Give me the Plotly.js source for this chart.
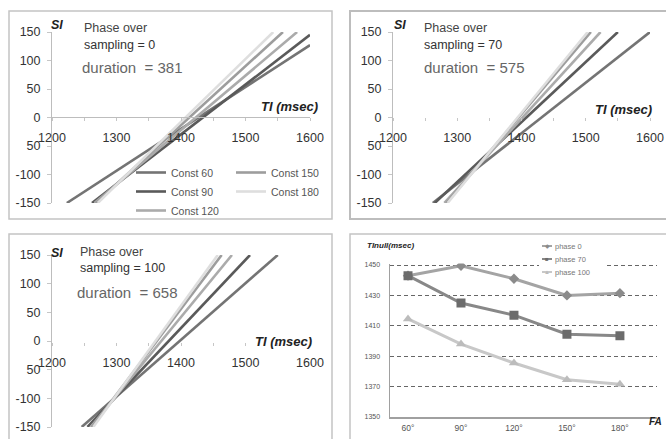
<!DOCTYPE html>
<html><head><meta charset="utf-8">
<script src="https://cdn.plot.ly/plotly-3.0.1.min.js"></script>
<style>html,body{margin:0;padding:0;background:#fff}#chart{width:666px;height:439px}</style>
</head><body><div id="chart"></div>
<script>
// ---------- data ----------
var constNames = ['Const 60', 'Const 90', 'Const 120', 'Const 150', 'Const 180'];
var constColors = ['#747474', '#5a5a5a', '#ababab', '#9d9d9d', '#dedede'];

// phase over sampling = 0 : TI endpoints and SI endpoints of each line
var phase0TI  = [[1223, 1600], [1262, 1600], [1266, 1580], [1268, 1558], [1271, 1543]];
var phase0SI  = [[-150, 127],  [-150, 145],  [-150, 150],  [-150, 150],  [-150, 150]];
// phase over sampling = 70
var phase70TI = [[1262, 1600], [1265, 1550], [1280, 1523], [1283, 1508], [1285, 1503]];
var phase70SI = [[-150, 150],  [-150, 150],  [-150, 150],  [-150, 150],  [-150, 150]];
// phase over sampling = 100
var phase100TI = [[1246, 1550], [1255, 1507], [1260, 1479], [1262, 1463], [1264, 1457]];
var phase100SI = [[-150, 150],  [-150, 150],  [-150, 150],  [-150, 150],  [-150, 150]];

var panelPhases = [0, 70, 100];
var panelDurations = [381, 575, 658];

var siTicks = [150, 100, 50, 0, -50, -100, -150];
var siTickText = ['150', '100', '50', '0', '50', '-100', '-150'];
var tiTicks = [1200, 1250, 1300, 1350, 1400, 1450, 1500, 1550, 1600];
var tiTickText = ['1200', '', '1300', '', '1400', '', '1500', '', '1600'];

// TInull chart
var faLabels = ['60°', '90°', '120°', '150°', '180°'];
var phaseNames = ['phase 0', 'phase 70', 'phase 100'];
var tinullPhase0   = [1443, 1449.5, 1441, 1430, 1431.5];
var tinullPhase70  = [1443, 1425, 1417, 1404.5, 1403.5];
var tinullPhase100 = [1414.5, 1398, 1385.5, 1374.5, 1371.5];
var tinullTicks = [1350, 1370, 1390, 1410, 1430, 1450];

// ---------- helpers ----------
function px(x) { return x / 666; }
function py(y) { return (439 - y) / 439; }
var FONT = 'Liberation Sans, Arial, sans-serif';

var traces = [];
var lineSets = [[phase0TI, phase0SI], [phase70TI, phase70SI], [phase100TI, phase100SI]];
lineSets.forEach(function (set, p) {
  var suffix = p === 0 ? '' : String(p + 1);
  for (var i = 0; i < constNames.length; i++) {
    traces.push({
      type: 'scatter', mode: 'lines',
      x: set[0][i], y: set[1][i],
      xaxis: 'x' + suffix, yaxis: 'y' + suffix,
      name: constNames[i],
      line: { color: constColors[i], width: 2.6 },
      showlegend: p === 0,
      legend: i < 3 ? 'legend2' : 'legend3',
      hoverinfo: 'skip'
    });
  }
});

var phaseStyles = [
  { line: '#a4a4a4', marker: '#8b8b8b', symbol: 'diamond', size: 8, glyph: '◆' },
  { line: '#888888', marker: '#6c6c6c', symbol: 'square', size: 9, glyph: '■' },
  { line: '#c8c8c8', marker: '#bcbcbc', symbol: 'triangle-up', size: 9, glyph: '▲' }
];
[tinullPhase0, tinullPhase70, tinullPhase100].forEach(function (vals, k) {
  traces.push({
    type: 'scatter', mode: 'lines+markers',
    x: faLabels, y: vals, xaxis: 'x4', yaxis: 'y4',
    name: phaseNames[k], showlegend: false,
    line: { color: phaseStyles[k].line, width: 3 },
    marker: { symbol: phaseStyles[k].symbol, size: phaseStyles[k].size, color: phaseStyles[k].marker },
    hoverinfo: 'skip'
  });
});

function tiAxis(domain, pos, showline) {
  return {
    domain: domain, anchor: 'free', position: pos, range: [1200, 1600],
    tickvals: tiTicks, ticktext: tiTickText,
    ticks: 'outside', ticklen: 3, tickcolor: '#c6c6c6',
    showline: showline, linecolor: '#bdbdbd', linewidth: 1,
    showgrid: false, zeroline: false, ticklabelstandoff: 6,
    tickfont: { family: FONT, size: 12.5, color: '#333' }
  };
}
function siAxis(domain, anchor) {
  return {
    domain: domain, anchor: anchor, range: [-150, 150],
    tickvals: siTicks, ticktext: siTickText,
    ticks: 'outside', ticklen: 4, tickcolor: '#c6c6c6',
    showline: true, linecolor: '#bdbdbd', linewidth: 1,
    showgrid: false, zeroline: false, ticklabelstandoff: 4,
    tickfont: { family: FONT, size: 12.5, color: '#333' }
  };
}

var annotations = [];
function txt(t, x, y, size, color, opts) {
  opts = opts || {};
  annotations.push({
    text: t, xref: 'paper', yref: 'paper', x: px(x), y: py(y),
    xanchor: opts.xanchor || 'left', yanchor: 'middle', showarrow: false,
    font: { family: FONT, size: size, color: color }
  });
}
var panelText = [
  { si: [57, 25], ph: [82, 28], sa: [82, 45], du: [80, 68], ti: [320, 107] },
  { si: [400, 25], ph: [422, 28], sa: [422, 45], du: [422, 68], ti: [654, 110] },
  { si: [57, 253], ph: [78, 252], sa: [78, 268], du: [75, 292], ti: [314, 341] }
];
panelText.forEach(function (p, k) {
  txt('<b><i>SI</i></b>', p.si[0], p.si[1], 12.5, '#222', { xanchor: 'center' });
  txt('Phase over', p.ph[0], p.ph[1], 12.5, '#444');
  txt('sampling = ' + panelPhases[k], p.sa[0], p.sa[1], 12.5, '#333');
  txt('duration  = ' + panelDurations[k], p.du[0], p.du[1], 15, '#666');
  txt('<b><i>TI (msec)</i></b>', p.ti[0], p.ti[1], 13, '#222', { xanchor: 'right' });
});
txt('<b><i>TInull(msec)</i></b>', 365, 245, 8, '#222');
txt('<b><i>FA</i></b>', 664, 421, 10, '#222', { xanchor: 'right' });

// manual legend for the TInull chart
var shapes = [
  { type: 'rect', xref: 'paper', yref: 'paper', x0: px(9), x1: px(332), y0: py(219), y1: py(11), line: { color: '#c4c4c4', width: 1.5 } },
  { type: 'rect', xref: 'paper', yref: 'paper', x0: px(350), x1: px(700), y0: py(219), y1: py(11), line: { color: '#bdbdbd', width: 2 } },
  { type: 'rect', xref: 'paper', yref: 'paper', x0: px(9), x1: px(332), y0: py(480), y1: py(234), line: { color: '#c4c4c4', width: 1.5 } },
  { type: 'rect', xref: 'paper', yref: 'paper', x0: px(350), x1: px(700), y0: py(480), y1: py(234), line: { color: '#c4c4c4', width: 1.5 } },
  { type: 'rect', xref: 'paper', yref: 'paper', layer: 'above', x0: px(539), x1: px(607), y0: py(279), y1: py(239), fillcolor: '#fff', line: { width: 0 } }
];
var legRows = [246, 259, 272];
phaseNames.forEach(function (n, k) {
  shapes.push({ type: 'line', xref: 'paper', yref: 'paper', layer: 'above', x0: px(542), x1: px(552), y0: py(legRows[k]), y1: py(legRows[k]), line: { color: phaseStyles[k].line, width: 2 } });
  txt(phaseStyles[k].glyph, 547, legRows[k], 6, phaseStyles[k].marker, { xanchor: 'center' });
  txt(n, 553, legRows[k], 7.5, '#777');
});

var layout = {
  width: 666, height: 439, margin: { l: 0, r: 0, t: 0, b: 0 },
  paper_bgcolor: '#fff', plot_bgcolor: 'rgba(0,0,0,0)',
  showlegend: true,
  font: { family: FONT },
  xaxis: tiAxis([px(52), px(310)], py(117), true),
  yaxis: siAxis([py(203), py(32)], 'x'),
  xaxis2: tiAxis([px(393), px(650)], py(117), false),
  yaxis2: siAxis([py(203), py(32)], 'x2'),
  xaxis3: tiAxis([px(52), px(310)], py(342), false),
  yaxis3: siAxis([py(427), py(255)], 'x3'),
  xaxis4: {
    domain: [px(390), px(657)], anchor: 'y4', type: 'category', range: [-0.34, 4.7],
    showline: true, linecolor: '#a0a0a0', linewidth: 1.5, ticks: '', showgrid: false,
    zeroline: false, ticklabelstandoff: 2,
    tickfont: { family: FONT, size: 8.5, color: '#555' }
  },
  yaxis4: {
    domain: [py(417), py(263.5)], anchor: 'x4', range: [1350, 1451],
    tickvals: tinullTicks, showline: true, linecolor: '#a0a0a0', linewidth: 1.5,
    ticks: '', showgrid: true, gridcolor: '#666', griddash: '4px,3px', gridwidth: 1,
    zeroline: false, ticklabelstandoff: 7,
    tickfont: { family: FONT, size: 7, color: '#555' }
  },
  legend2: {
    x: px(131), y: py(158), xanchor: 'left', yanchor: 'top', bgcolor: 'rgba(0,0,0,0)',
    font: { family: FONT, size: 10.5, color: '#555' }, tracegroupgap: 0
  },
  legend3: {
    x: px(231), y: py(158), xanchor: 'left', yanchor: 'top', bgcolor: 'rgba(0,0,0,0)',
    font: { family: FONT, size: 10.5, color: '#555' }, tracegroupgap: 0
  },
  annotations: annotations,
  shapes: shapes
};

Plotly.newPlot('chart', traces, layout, { staticPlot: true, displayModeBar: false });
</script>
</body></html>
